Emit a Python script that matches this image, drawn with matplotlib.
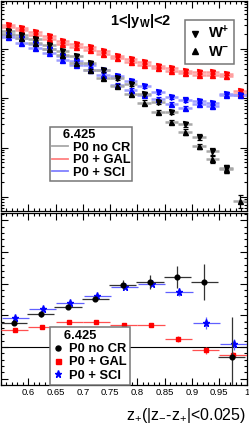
import numpy as np
import matplotlib
matplotlib.use('Agg')
import matplotlib.pyplot as plt
from matplotlib.ticker import MultipleLocator, FuncFormatter, LogLocator, NullFormatter
from matplotlib.lines import Line2D

plt.rcParams['font.family'] = ['Liberation Sans', 'DejaVu Sans']
plt.rcParams['mathtext.fontset'] = 'custom'
plt.rcParams['mathtext.rm'] = 'Liberation Sans'
plt.rcParams['mathtext.it'] = 'Liberation Sans:italic'
plt.rcParams['mathtext.bf'] = 'Liberation Sans:bold'
plt.rcParams['mathtext.default'] = 'regular'

# top panel: 18 bins of 0.025 in z+
top_centres = [0.5625, 0.5875, 0.6125, 0.6375, 0.6625, 0.6875, 0.7125, 0.7375, 0.7625,
               0.7875, 0.8125, 0.8375, 0.8625, 0.8875, 0.9125, 0.9375, 0.9625, 0.9875]

noCR_Wplus = [2257, 1874, 1608, 1177, 903, 715, 526, 368, 259, 192, 124, 84.2, 52.9, 29.8, 16.5, 8.5, 3.8, np.nan]
noCR_Wminus = [2028, 1653, 1310, 1009, 739, 517, 368, 257, 179, 124, 81.9, 52.9, 33.2, 20.9, 10.7, 5.86, 3.7, 0.842]
gal_Wplus = [3083, 2644, 2175, 1805, 1431, 1244, 1082, 886, 729, 619, 539, 453, 404, 359, 334, 334, 313, 138]
gal_Wminus = [2756, 2364, 1945, 1615, 1280, 1113, 968, 793, 652, 554, 482, 406, 361, 321, 298, 298, 280, 123]
sci_Wplus = [1918, 1630, 1262, 977, 705, 559, 464, 368, 282, 224, 177, 134, 106, 94.1, 87.0, 79.3, 123, 115]
sci_Wminus = [1731, 1322, 1047, 838, 586, 475, 380, 298, 183, 145, 115, 95.4, 75.6, 63.7, 75.6, 70.6, 115, 114]

# relative errors
noCR_relerr = [0.08, 0.08, 0.08, 0.08, 0.08, 0.08, 0.08, 0.09, 0.09, 0.09, 0.1, 0.1, 0.1, 0.12, 0.13, 0.15, 0.18, 0.3]
gal_relerr = [0.08, 0.08, 0.08, 0.08, 0.08, 0.08, 0.08, 0.08, 0.08, 0.08, 0.08, 0.08, 0.08, 0.08, 0.07, 0.07, 0.07, 0.07]
sci_relerr = [0.08, 0.08, 0.08, 0.08, 0.08, 0.08, 0.08, 0.08, 0.09, 0.09, 0.09, 0.09, 0.1, 0.1, 0.1, 0.1, 0.08, 0.08]

# bottom panel: 9 bins of 0.05
bot_centres = [0.575, 0.625, 0.675, 0.725, 0.775, 0.825, 0.875, 0.925, 0.975]
ratio_noCR = [1.077, 1.104, 1.127, 1.152, 1.197, 1.204, 1.221, 1.205, 0.969]
ratio_noCR_err = [0.008, 0.008, 0.008, 0.008, 0.013, 0.022, 0.035, 0.057, 0.125]
ratio_gal = [1.054, 1.062, 1.079, 1.079, 1.068, 1.068, 1.026, 0.989, 0.974]
ratio_gal_err = [0.005, 0.005, 0.005, 0.005, 0.005, 0.006, 0.01, 0.011, 0.01]
ratio_sci = [1.091, 1.119, 1.138, 1.161, 1.188, 1.200, 1.173, 1.076, 1.009]
ratio_sci_err = [0.006, 0.006, 0.006, 0.006, 0.006, 0.007, 0.013, 0.02, 0.017]

xticks = [0.6, 0.65, 0.7, 0.75, 0.8, 0.85, 0.9, 0.95, 1.0]

W, H = 249.0, 424.0
fig = plt.figure(figsize=(W / 100, H / 100), dpi=100)
ax1 = fig.add_axes([1 / W, 1 - 210.5 / H, 245.5 / W, 210 / H])
ax2 = fig.add_axes([1 / W, 1 - 385 / H, 245.5 / W, 172 / H])

for ax in (ax1, ax2):
    ax.set_xlim(0.55, 1.0)
    ax.xaxis.set_major_locator(MultipleLocator(0.05))
    ax.xaxis.set_minor_locator(MultipleLocator(0.01))
    ax.tick_params(which='both', direction='in', top=True, right=True, labelleft=False, width=0.8)
    ax.tick_params(which='major', length=5)
    ax.tick_params(which='minor', length=2.5)
    for s in ax.spines.values():
        s.set_linewidth(0.9)

# ---- top panel
ax1.set_yscale('log')
ax1.set_ylim(0.533, 9530)
ax1.yaxis.set_major_locator(LogLocator(base=10))
ax1.yaxis.set_minor_locator(LogLocator(base=10, subs=np.arange(2, 10)))
ax1.yaxis.set_minor_formatter(NullFormatter())
ax1.tick_params(labelbottom=False)

xc = np.array(top_centres)

def draw_top(y, rel, col, light, mk):
    y = np.array(y)
    ax1.errorbar(xc, y, xerr=0.0125, fmt='none', ecolor=light, elinewidth=1.8, zorder=2)
    ax1.errorbar(xc, y, yerr=y * np.array(rel), fmt=mk, color=col, ms=3.6,
                 elinewidth=0.9, capsize=1.8, capthick=0.9, zorder=3)

draw_top(gal_Wplus, gal_relerr, 'red', '#ff9d9d', 'v')
draw_top(gal_Wminus, gal_relerr, 'red', '#ff9d9d', '^')
draw_top(sci_Wplus, sci_relerr, 'blue', '#9d9dff', 'v')
draw_top(sci_Wminus, sci_relerr, 'blue', '#9d9dff', '^')
draw_top(noCR_Wplus, noCR_relerr, 'black', '#a8a8a8', 'v')
draw_top(noCR_Wminus, noCR_relerr, 'black', '#a8a8a8', '^')

ax1.text(0.57, 0.90, '1<|y$_{W}$|<2', transform=ax1.transAxes, ha='center', va='center',
         fontsize=10.5, fontweight='bold')

wleg = ax1.legend(handles=[Line2D([], [], ls='none', marker='v', color='black', ms=4),
                           Line2D([], [], ls='none', marker='^', color='black', ms=4)],
                  labels=[r'$\mathbf{W^{+}}$', r'$\mathbf{W^{-}}$'],
                  loc='upper left', bbox_to_anchor=(0.75, 0.907), borderaxespad=0,
                  fontsize=10.5, fancybox=False, edgecolor='#777777', framealpha=1,
                  handlelength=0.7, handletextpad=0.6, borderpad=0.3, labelspacing=0.25)
wleg.get_frame().set_linewidth(1.1)
ax1.add_artist(wleg)

leg1 = ax1.legend(handles=[Line2D([], [], color='#a8a8a8', lw=1.3),
                           Line2D([], [], color='#ff8080', lw=1.3),
                           Line2D([], [], color='#8080ff', lw=1.3)],
                  labels=['P0 no CR', 'P0 + GAL', 'P0 + SCI'],
                  title='   6.425', loc='upper left', bbox_to_anchor=(0.2, 0.3976), borderaxespad=0,
                  prop={'size': 9.3, 'weight': 'bold'}, title_fontproperties={'size': 9.3, 'weight': 'bold'},
                  fancybox=False, edgecolor='#777777', framealpha=1, alignment='left',
                  handlelength=1.2, handletextpad=0.4, borderpad=0.15, labelspacing=0.05)
leg1.get_frame().set_linewidth(1.1)

# ---- bottom panel
ax2.set_ylim(0.88, 1.423)
ax2.yaxis.set_major_locator(MultipleLocator(0.1))
ax2.yaxis.set_minor_locator(MultipleLocator(0.02))
ax2.set_xticks(xticks)
ax2.xaxis.set_major_formatter(FuncFormatter(lambda v, p: '%g' % v))
ax2.tick_params(axis='x', labelsize=6.8, pad=2.5)
ax2.axhline(1.0, color='black', lw=0.8, zorder=1)

xb = np.array(bot_centres)
ax2.errorbar(xb, ratio_gal, xerr=0.025, yerr=ratio_gal_err, fmt='s', color='red', ecolor='#ff5050',
             ms=3.4, elinewidth=0.9, zorder=3)
ax2.errorbar(xb + 0.0015, ratio_sci, xerr=0.025, yerr=ratio_sci_err, fmt='*', color='blue', ecolor='#6060ff',
             ms=5.2, elinewidth=0.9, zorder=4)
ax2.errorbar(xb - 0.002, ratio_noCR, xerr=0.025, yerr=ratio_noCR_err, fmt='o', color='black', ecolor='#333333',
             ms=3.4, elinewidth=0.9, zorder=5)

leg2 = ax2.legend(handles=[Line2D([], [], ls='none', marker='o', color='black', ms=3.6),
                           Line2D([], [], ls='none', marker='s', color='red', ms=3.6),
                           Line2D([], [], ls='none', marker='*', color='blue', ms=5.2)],
                  labels=['P0 no CR', 'P0 + GAL', 'P0 + SCI'],
                  title='   6.425', loc='lower left', bbox_to_anchor=(0.2, 0.0), borderaxespad=0,
                  prop={'size': 9.3, 'weight': 'bold'}, title_fontproperties={'size': 9.3, 'weight': 'bold'},
                  fancybox=False, edgecolor='#777777', framealpha=1, alignment='left',
                  handlelength=0.8, handletextpad=0.4, borderpad=0.25, labelspacing=0.1)
leg2.get_frame().set_linewidth(1.1)

fig.text(246 / W, 4 / H, 'z$_{+}$(|z$_{-}$-z$_{+}$|<0.025)', ha='right', va='baseline', fontsize=11.5)

fig.savefig('out.png', dpi=100)
